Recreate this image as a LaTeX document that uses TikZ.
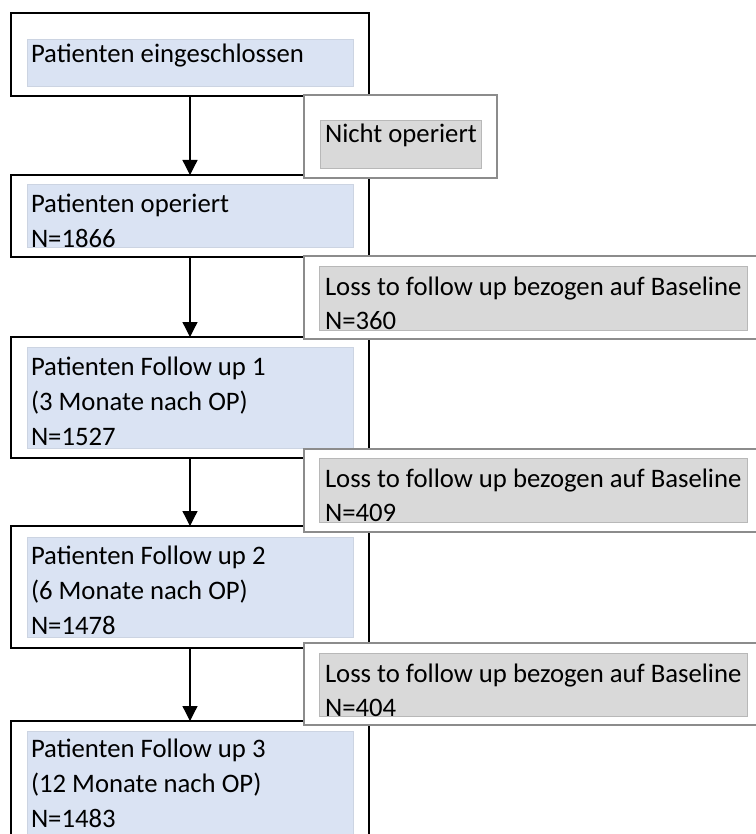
\documentclass[tikz,border=0pt]{standalone}
\usepackage{fontspec}
\setmainfont{Carlito}
\usetikzlibrary{arrows.meta}
\definecolor{bluefill}{HTML}{DAE3F3}
\definecolor{grayfill}{HTML}{D9D9D9}
\definecolor{grayline}{HTML}{8C8C8C}
\begin{document}
\begin{tikzpicture}[x=1pt,y=-1pt,
  every node/.style={inner sep=0pt, outer sep=0pt},
  mainbox/.style={draw=black, line width=1.3pt, fill=white, rectangle, anchor=north west},
  sidebox/.style={draw=grayline, line width=1.6pt, fill=white, rectangle, anchor=north west},
  bluebox/.style={fill=bluefill, draw=bluefill!85!gray, line width=0.6pt, rectangle, anchor=north west},
  graybox/.style={fill=grayfill, draw=grayfill!85!black, line width=0.6pt, rectangle, anchor=north west},
  txt/.style={anchor=base west, font=\fontsize{26.7}{35}\selectfont, text=black},
  flow/.style={-{Triangle[length=15pt,width=15pt]}, line width=1.3pt}]
\useasboundingbox[fill=white] (0,0) rectangle (755,834);

% main boxes
\node[mainbox, minimum width=358pt, minimum height=83pt] (b1) at (11,13) {};
\node[bluebox, minimum width=326pt, minimum height=47pt] (i1) at (27,39) {};
\node[mainbox, minimum width=358pt, minimum height=82pt] (b2) at (11,175) {};
\node[bluebox, minimum width=326pt, minimum height=63pt] (i2) at (27,184) {};
\node[mainbox, minimum width=358pt, minimum height=121pt] (b3) at (11,337) {};
\node[bluebox, minimum width=326pt, minimum height=101pt] (i3) at (27,347) {};
\node[mainbox, minimum width=358pt, minimum height=122pt] (b4) at (11,526) {};
\node[bluebox, minimum width=326pt, minimum height=100pt] (i4) at (27,537) {};
\node[mainbox, minimum width=358pt, minimum height=130pt] (b5) at (11,721) {};
\node[bluebox, minimum width=326pt, minimum height=110pt] (i5) at (27,731) {};

% texts of main boxes
\node[txt] (t1) at (31,63) {Patienten eingeschlossen};
\node[txt] (t2a) at (31,212) {Patienten operiert};
\node[txt] (t2b) at (31,247) {N=1866};
\node[txt] (t3a) at (31,375) {Patienten Follow up 1};
\node[txt] (t3b) at (31,410) {(3 Monate nach OP)};
\node[txt] (t3c) at (31,445) {N=1527};
\node[txt] (t4a) at (31,564) {Patienten Follow up 2};
\node[txt] (t4b) at (31,599) {(6 Monate nach OP)};
\node[txt] (t4c) at (31,634) {N=1478};
\node[txt] (t5a) at (31,757) {Patienten Follow up 3};
\node[txt] (t5b) at (31,792) {(12 Monate nach OP)};
\node[txt] (t5c) at (31,827) {N=1483};

% arrows
\draw[flow] (b1.south) -- (b2.north);
\draw[flow] (b2.south) -- (b3.north);
\draw[flow] (b3.south) -- (b4.north);
\draw[flow] (b4.south) -- (b5.north);

% side boxes
\node[sidebox, minimum width=193pt, minimum height=83pt] (s0) at (304,95) {};
\node[graybox, minimum width=161pt, minimum height=48pt] (g0) at (320,120) {};
\node[txt] (n0) at (325,143) {Nicht operiert};

\node[sidebox, minimum width=470pt, minimum height=83pt] (s1) at (304,256) {};
\node[graybox, minimum width=428pt, minimum height=64pt] (g1) at (319,266) {};
\node[txt] (n1a) at (325,295) {Loss to follow up bezogen auf Baseline};
\node[txt] (n1b) at (325,329) {N=360};

\node[sidebox, minimum width=470pt, minimum height=83pt] (s2) at (304,449) {};
\node[graybox, minimum width=428pt, minimum height=64pt] (g2) at (319,458) {};
\node[txt] (n2a) at (325,487) {Loss to follow up bezogen auf Baseline};
\node[txt] (n2b) at (325,521) {N=409};

\node[sidebox, minimum width=470pt, minimum height=82pt] (s3) at (304,643) {};
\node[graybox, minimum width=428pt, minimum height=63pt] (g3) at (319,653) {};
\node[txt] (n3a) at (325,682) {Loss to follow up bezogen auf Baseline};
\node[txt] (n3b) at (325,716) {N=404};
\end{tikzpicture}
\end{document}
